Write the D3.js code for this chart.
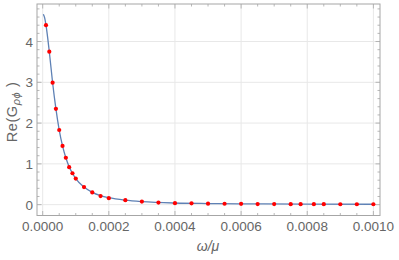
<!DOCTYPE html>
<html>
<meta charset="utf-8">
<head>
<script src="https://d3js.org/d3.v7.min.js"></script>
<style>
body { margin: 0; background: white; }
text { font-family: "Liberation Sans", Arial, sans-serif; }
</style>
</head>
<body>
<script>
// sampled points (red)
var omega = [0.00001, 0.00002, 0.00003, 0.00004, 0.00005, 0.00006, 0.00007, 0.00008, 0.00009, 0.0001,
             0.000125, 0.00015, 0.000175, 0.0002, 0.00025, 0.0003, 0.00035, 0.0004, 0.00045,
             0.0005, 0.00055, 0.0006, 0.00065, 0.0007, 0.00075, 0.00078, 0.00082, 0.00085, 0.0009, 0.00095, 0.001];
var reG = [4.40, 3.75, 2.99, 2.35, 1.83, 1.44, 1.15, 0.92, 0.77, 0.64,
           0.43, 0.30, 0.21, 0.16, 0.11, 0.075, 0.05, 0.035, 0.033,
           0.025, 0.022, 0.02, 0.015, 0.014, 0.012, 0.012, 0.011, 0.011, 0.01, 0.01, 0.01];
// fitted curve (blue)
var lineOmega = [0.000002, 0.000006, 0.00001, 0.00002, 0.00003, 0.00004, 0.00005, 0.00006, 0.00007, 0.00008,
                 0.00009, 0.0001, 0.000125, 0.00015, 0.000175, 0.0002, 0.00025, 0.0003, 0.0004, 0.0005,
                 0.0006, 0.0008, 0.001];
var lineG = [4.67, 4.58, 4.40, 3.75, 2.99, 2.35, 1.83, 1.44, 1.15, 0.93,
             0.77, 0.64, 0.43, 0.30, 0.22, 0.17, 0.11, 0.075, 0.04, 0.027,
             0.02, 0.013, 0.01];
var xTicks = [0, 0.0002, 0.0004, 0.0006, 0.0008, 0.001];
var yTicks = [0, 1, 2, 3, 4];

var W = 399, H = 260;
var m = {left: 37, right: 19, top: 4, bottom: 44.5};

var svg = d3.select("body").append("svg")
    .attr("width", W).attr("height", H);

var x = d3.scaleLinear()
    .domain([-0.0000172, 0.00102])
    .range([m.left, W - m.right]);
var y = d3.scaleLinear()
    .domain([-0.266, 4.92])
    .range([H - m.bottom, m.top]);

var frameCol = "#a6a6a6", gridCol = "#e8e8e8", labCol = "#666";

// grid
svg.append("g").selectAll("line").data(xTicks).enter().append("line")
    .attr("x1", function(d){ return x(d); }).attr("x2", function(d){ return x(d); })
    .attr("y1", y.range()[0]).attr("y2", y.range()[1])
    .attr("stroke", gridCol).attr("stroke-width", 1);
svg.append("g").selectAll("line").data(yTicks).enter().append("line")
    .attr("y1", function(d){ return y(d); }).attr("y2", function(d){ return y(d); })
    .attr("x1", x.range()[0]).attr("x2", x.range()[1])
    .attr("stroke", gridCol).attr("stroke-width", 1);

// minor + major ticks on all four sides
var xMinor = d3.range(0, 0.001001, 0.00005);
var yMinor = d3.range(0, 4.81, 0.2);
var tg = svg.append("g").attr("stroke", frameCol).attr("stroke-width", 0.8);
xMinor.forEach(function(v) {
  var L = Math.abs(v / 0.0002 - Math.round(v / 0.0002)) < 1e-6 ? 4.5 : 2.5;
  tg.append("line").attr("x1", x(v)).attr("x2", x(v))
    .attr("y1", y.range()[0]).attr("y2", y.range()[0] - L);
  tg.append("line").attr("x1", x(v)).attr("x2", x(v))
    .attr("y1", y.range()[1]).attr("y2", y.range()[1] + L);
});
yMinor.forEach(function(v) {
  var L = Math.abs(v - Math.round(v)) < 1e-6 ? 4.5 : 2.5;
  tg.append("line").attr("y1", y(v)).attr("y2", y(v))
    .attr("x1", x.range()[0]).attr("x2", x.range()[0] + L);
  tg.append("line").attr("y1", y(v)).attr("y2", y(v))
    .attr("x1", x.range()[1]).attr("x2", x.range()[1] - L);
});

// frame
svg.append("rect")
    .attr("x", m.left).attr("y", m.top)
    .attr("width", W - m.left - m.right).attr("height", H - m.top - m.bottom)
    .attr("fill", "none").attr("stroke", frameCol).attr("stroke-width", 1);

// tick labels
svg.append("g").selectAll("text").data(xTicks).enter().append("text")
    .attr("x", function(d){ return x(d); })
    .attr("y", y.range()[0] + 15)
    .attr("text-anchor", "middle")
    .attr("font-size", "13.5px").attr("fill", labCol)
    .text(function(d){ return d3.format(".4f")(d); });
svg.append("g").selectAll("text").data(yTicks).enter().append("text")
    .attr("x", m.left - 4)
    .attr("y", function(d){ return y(d) + 5; })
    .attr("text-anchor", "end")
    .attr("font-size", "13.5px").attr("fill", labCol)
    .text(function(d){ return d; });

// curve
svg.append("path")
    .datum(lineOmega.map(function(d, i){ return [d, lineG[i]]; }))
    .attr("fill", "none").attr("stroke", "#5e81b5").attr("stroke-width", 1.3)
    .attr("d", d3.line().curve(d3.curveMonotoneX)
      .x(function(d){ return x(d[0]); }).y(function(d){ return y(d[1]); }));

// points
svg.append("g").selectAll("circle").data(omega).enter().append("circle")
    .attr("cx", function(d){ return x(d); })
    .attr("cy", function(d, i){ return y(reG[i]); })
    .attr("r", 2.1).attr("fill", "#ff0000");

// axis titles
svg.append("text")
    .attr("x", 208).attr("y", 251)
    .attr("text-anchor", "middle")
    .attr("font-size", "14px").attr("font-style", "italic").attr("fill", labCol)
    .text("ω/μ");
var yl = svg.append("text")
    .attr("transform", "translate(16.5,112) rotate(-90)")
    .attr("text-anchor", "middle")
    .attr("letter-spacing", "0.6px")
    .attr("font-size", "14.5px").attr("fill", labCol);
yl.append("tspan").text("Re(G");
yl.append("tspan").attr("font-size", "11px").attr("font-style", "italic").attr("dy", 3).text("ρϕ");
yl.append("tspan").attr("dy", -3).text(" )");
</script>
</body>
</html>
